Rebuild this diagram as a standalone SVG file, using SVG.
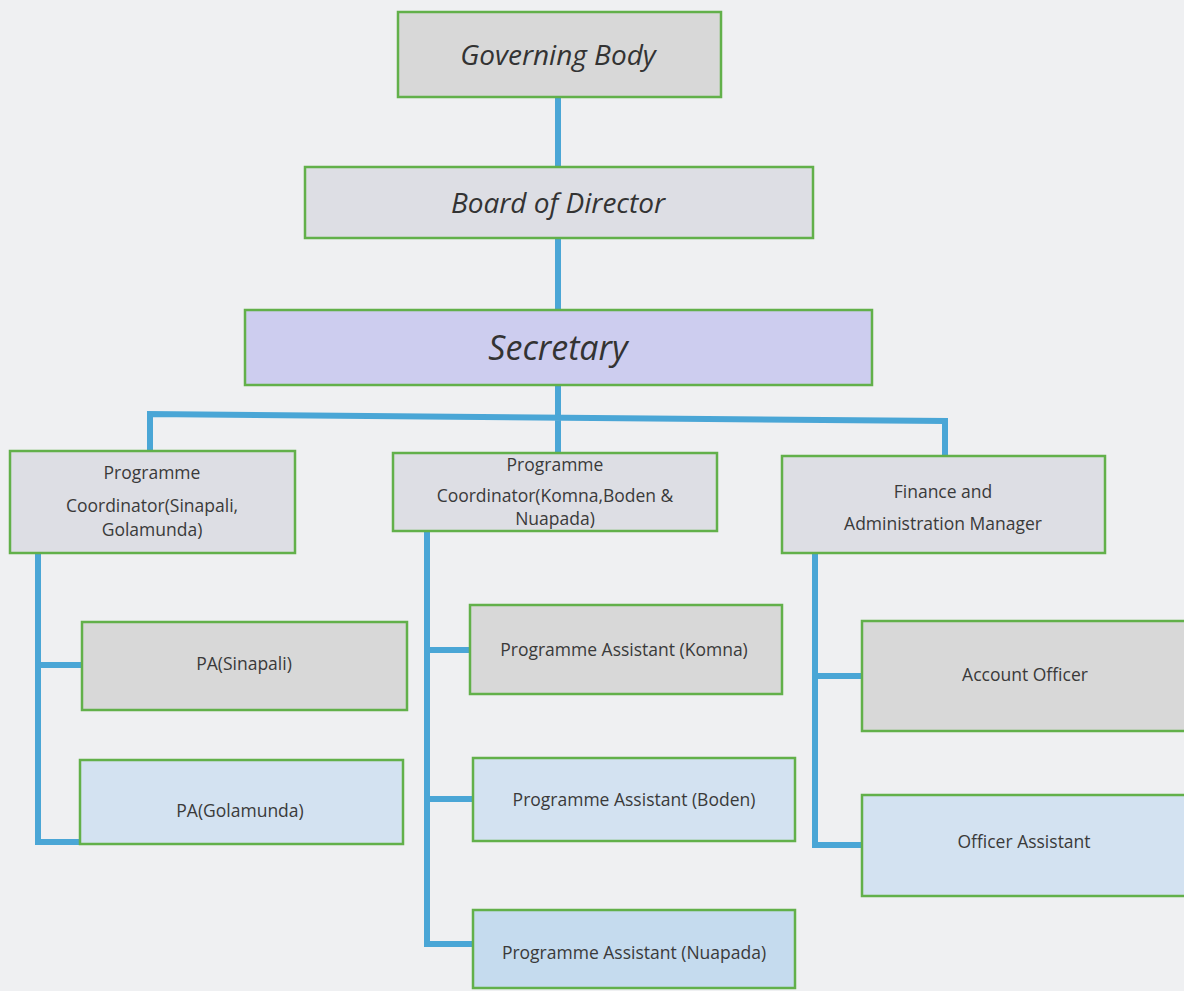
<svg xmlns="http://www.w3.org/2000/svg" width="1184" height="991" viewBox="0 0 1184 991">
<style>
.box{stroke:#62b04a;stroke-width:2.5}
.gray{fill:#d8d8d8}
.marble{fill:#dddee4}
.lav{fill:#cdcdef}
.blue{fill:#d3e2f1}
.blue2{fill:#c5dbee}
.big{font-family:"Open Sans","Liberation Sans",sans-serif;font-style:italic;fill:#333;text-anchor:middle}
.sm{font-family:"Open Sans","Liberation Sans",sans-serif;font-size:17.5px;fill:#3a3a3a;text-anchor:middle}
.ln{stroke:#4aa6d6;stroke-width:6;fill:none}
</style>
<rect width="1184" height="991" fill="#eff0f2"/>
<g id="connectors">
<path class="ln" d="M558 97V167M558 238V310M558 385V418"/>
<path class="ln" d="M150 450V414L945 421V455M558 418V453"/>
<path class="ln" d="M38 553V842H82M38 665H82"/>
<path class="ln" d="M427 531V944H472M427 650H470M427 799H473"/>
<path class="ln" d="M815 553V845H862M815 676H862"/>
</g>
<g id="governing-body"><rect class="box gray" x="398" y="12" width="323" height="85"/><text class="big" x="558" y="65" font-size="28">Governing Body</text></g>
<g id="board-of-director"><rect class="box marble" x="305" y="167" width="508" height="71"/><text class="big" x="558" y="213" font-size="28">Board of Director</text></g>
<g id="secretary"><rect class="box lav" x="245" y="310" width="627" height="75"/><text class="big" x="558" y="360" font-size="34">Secretary</text></g>
<g id="pc-sinapali"><rect class="box marble" x="10" y="451" width="285" height="102"/><text class="sm" x="152" y="479">Programme</text><text class="sm" x="152" y="512">Coordinator(Sinapali,</text><text class="sm" x="152" y="536">Golamunda)</text></g>
<g id="pc-komna"><rect class="box marble" x="393" y="453" width="324" height="78"/><text class="sm" x="555" y="471">Programme</text><text class="sm" x="555" y="502">Coordinator(Komna,Boden &amp;</text><text class="sm" x="555" y="525">Nuapada)</text></g>
<g id="finance"><rect class="box marble" x="782" y="456" width="323" height="97"/><text class="sm" x="943" y="498">Finance and</text><text class="sm" x="943" y="530">Administration Manager</text></g>
<g id="pa-sinapali"><rect class="box gray" x="82" y="622" width="325" height="88"/><text class="sm" x="244" y="670">PA(Sinapali)</text></g>
<g id="pa-golamunda"><rect class="box blue" x="80" y="760" width="323" height="84"/><text class="sm" x="240" y="817">PA(Golamunda)</text></g>
<g id="pa-komna"><rect class="box gray" x="470" y="605" width="312" height="89"/><text class="sm" x="624" y="656">Programme Assistant (Komna)</text></g>
<g id="pa-boden"><rect class="box blue" x="473" y="758" width="322" height="83"/><text class="sm" x="634" y="806">Programme Assistant (Boden)</text></g>
<g id="pa-nuapada"><rect class="box blue2" x="473" y="910" width="322" height="78"/><text class="sm" x="634" y="959">Programme Assistant (Nuapada)</text></g>
<g id="account-officer"><rect class="box gray" x="862" y="621" width="325" height="110"/><text class="sm" x="1025" y="681">Account Officer</text></g>
<g id="officer-assistant"><rect class="box blue" x="862" y="795" width="325" height="101"/><text class="sm" x="1024" y="848">Officer Assistant</text></g>
</svg>
